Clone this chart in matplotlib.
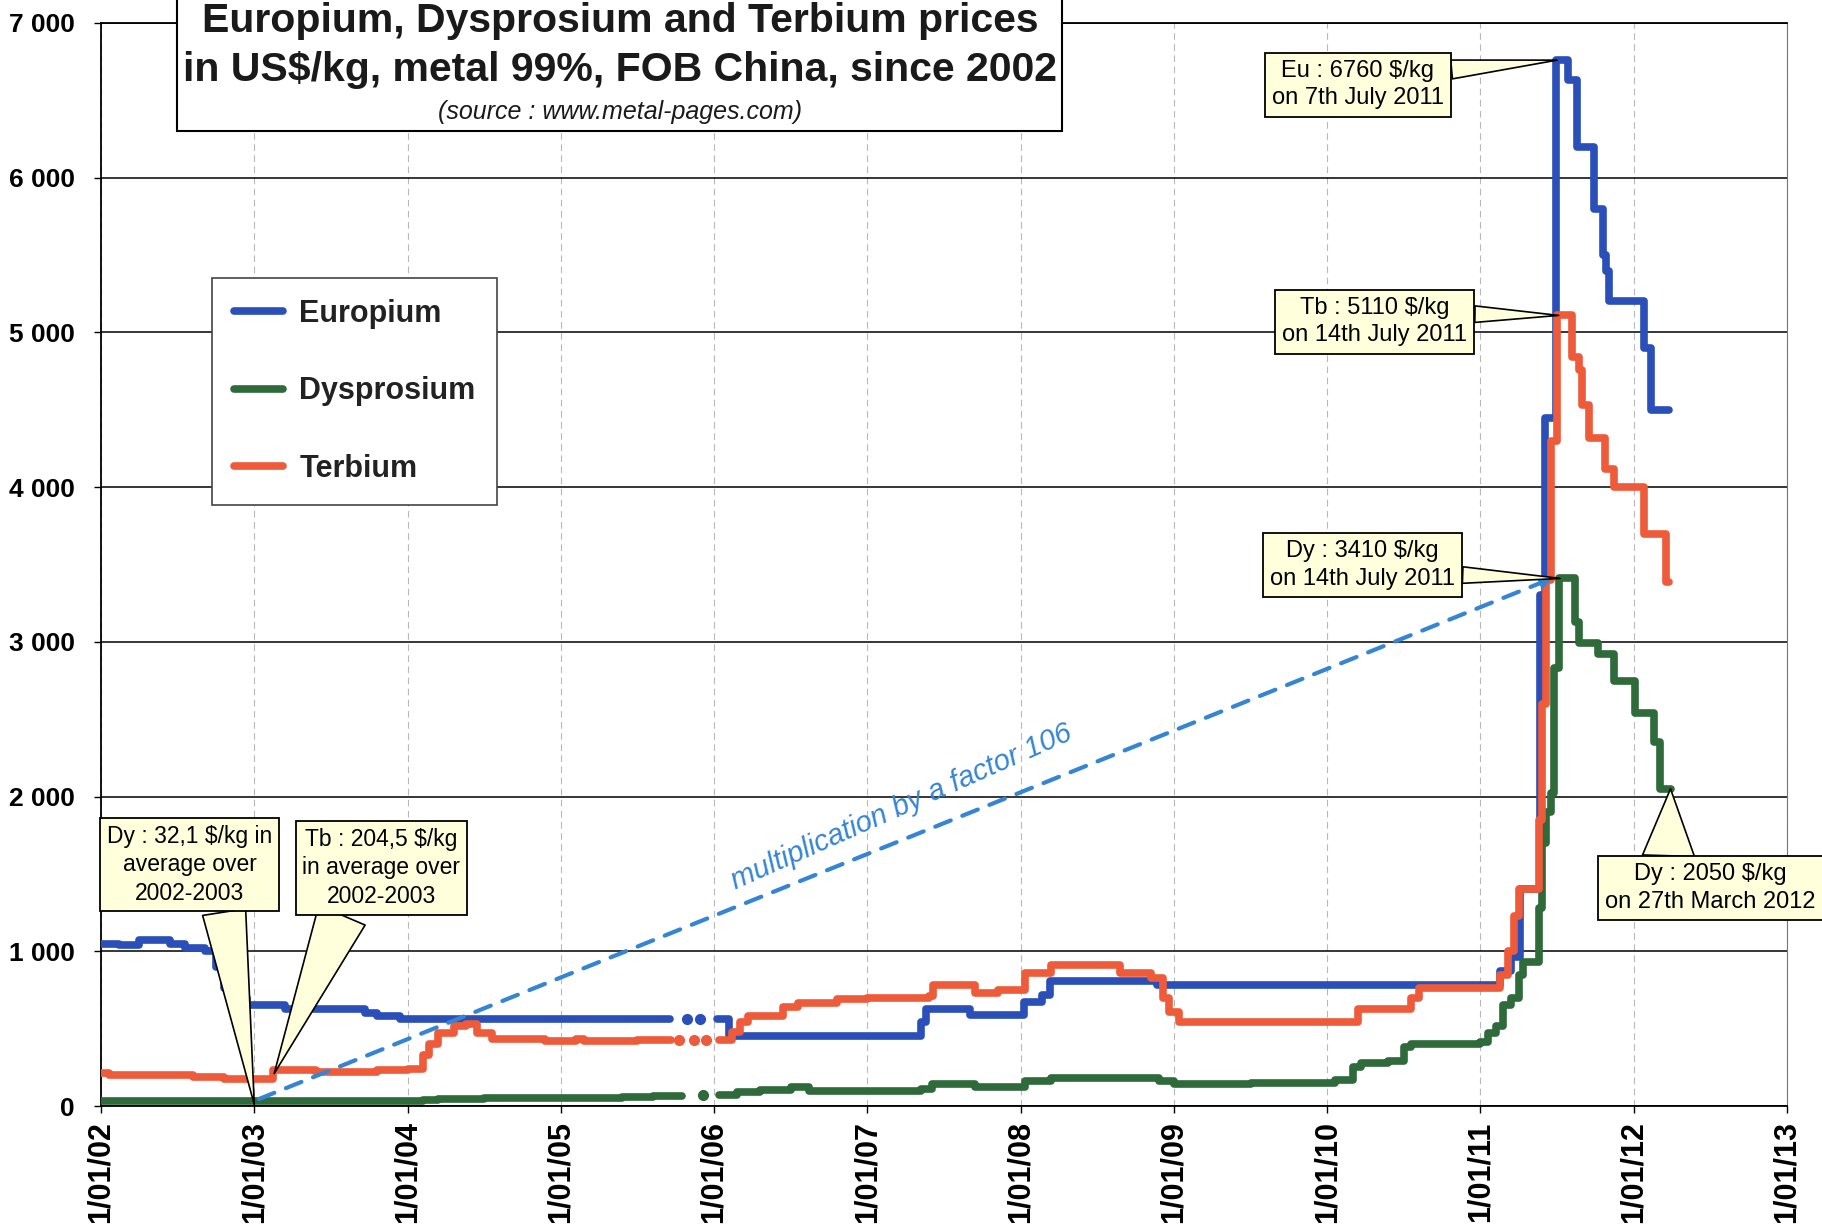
import numpy as np
import matplotlib
matplotlib.use("Agg")
import matplotlib.pyplot as plt
from matplotlib.patches import Rectangle

nan = np.nan

# prices in US$/kg, dates as decimal years (step data, value holds from date on)
eu_dates = [2002.00, 2002.12, 2002.25, 2002.45, 2002.55, 2002.68, 2002.75, 2002.80, 2002.85,
            2002.95, 2003.20, 2003.72, 2003.80, 2003.95, 2005.70, 2005.71,
            2006.02, 2006.10, 2007.35, 2007.38, 2007.67, 2008.02, 2008.14, 2008.19, 2008.89,
            2011.13, 2011.20, 2011.26, 2011.39, 2011.42, 2011.49, 2011.57, 2011.63, 2011.74,
            2011.80, 2011.82, 2011.84, 2012.07, 2012.11, 2012.23]
eu_prices = [1050, 1040, 1070, 1050, 1020, 1000, 900, 760, 700,
             655, 630, 600, 580, 565, 565, nan,
             560, 450, 540, 625, 590, 670, 720, 805, 780,
             870, 960, 1400, 3300, 4450, 6760, 6630, 6200, 5800,
             5500, 5400, 5200, 4900, 4500, 4500]
eu_dot_dates = [2005.82, 2005.91]
eu_dot_prices = [562, 562]

tb_dates = [2002.00, 2002.05, 2002.60, 2002.80, 2003.12, 2003.40, 2003.80, 2004.00, 2004.10,
            2004.14, 2004.20, 2004.30, 2004.38, 2004.45, 2004.55, 2004.90, 2005.10, 2005.15,
            2005.50, 2005.71, 2005.72,
            2006.03, 2006.12, 2006.17, 2006.22, 2006.45, 2006.55, 2006.80, 2007.00, 2007.40,
            2007.43, 2007.70, 2007.85, 2008.03, 2008.20, 2008.65, 2008.85, 2008.93, 2008.97,
            2009.03, 2010.20, 2010.55, 2010.60, 2011.13, 2011.18, 2011.22, 2011.25, 2011.38,
            2011.40, 2011.43, 2011.46, 2011.50, 2011.60, 2011.64, 2011.66, 2011.71, 2011.81,
            2011.87, 2012.07, 2012.21, 2012.23]
tb_prices = [215, 200, 185, 175, 232, 218, 232, 240, 330,
             400, 470, 515, 530, 470, 435, 422, 430, 420,
             425, 425, nan,
             425, 480, 540, 580, 640, 665, 690, 700, 710,
             780, 730, 750, 860, 910, 860, 830, 700, 610,
             540, 630, 700, 760, 845, 1000, 1230, 1400, 1850,
             2600, 3400, 4300, 5110, 4840, 4760, 4530, 4320, 4120,
             4000, 3700, 3390, 3390]
tb_dot_dates = [2005.77, 2005.87, 2005.95]
tb_dot_prices = [428, 428, 428]

dy_dates = [2002.00, 2002.50, 2003.00, 2004.10, 2004.20, 2004.50, 2005.00, 2005.40, 2005.60,
            2005.78, 2005.79,
            2006.03, 2006.15, 2006.30, 2006.50, 2006.62, 2007.35, 2007.42, 2007.70, 2008.03,
            2008.20, 2008.90, 2009.00, 2009.50, 2010.05, 2010.17, 2010.22, 2010.40, 2010.50,
            2010.55, 2011.00, 2011.05, 2011.10, 2011.15, 2011.20, 2011.25, 2011.28, 2011.38,
            2011.40, 2011.43, 2011.46, 2011.48, 2011.51, 2011.62, 2011.64, 2011.77, 2011.87,
            2012.01, 2012.13, 2012.17, 2012.24]
dy_prices = [35, 33, 30, 40, 45, 50, 52, 55, 62,
             65, nan,
             72, 90, 105, 120, 97, 110, 140, 125, 160,
             178, 160, 140, 150, 170, 250, 280, 290, 380,
             400, 412, 470, 515, 650, 700, 845, 930, 1280,
             1700, 1900, 2020, 2830, 3410, 3130, 2990, 2920, 2750,
             2540, 2350, 2050, 2050]
dy_dot_dates = [2005.93]
dy_dot_prices = [68]

years = list(range(2002, 2014))
x_labels = ["1/01/%02d" % (y % 100) for y in years]
y_ticks = list(range(0, 7001, 1000))
y_labels = ["0", "1 000", "2 000", "3 000", "4 000", "5 000", "6 000", "7 000"]

eu_color = "#2b4fb8"
dy_color = "#2e6a3a"
tb_color = "#ee5b3a"
trend_color = "#3585d4"
cream = "#ffffdc"
plain = ["Liberation Sans", "DejaVu Sans"]

plt.rcParams["font.family"] = plain

fig = plt.figure(figsize=(18.22, 12.24), dpi=100)
ax = fig.add_axes([101 / 1822, 1 - 1106 / 1224, 1686 / 1822, 1083 / 1224])

lw = 5.5
ax.plot(eu_dates, eu_prices, color=eu_color, lw=lw, drawstyle="steps-post",
        solid_capstyle="round", label="Europium", zorder=3)
ax.plot(dy_dates, dy_prices, color=dy_color, lw=lw, drawstyle="steps-post",
        solid_capstyle="round", label="Dysprosium", zorder=3)
ax.plot(tb_dates, tb_prices, color=tb_color, lw=lw, drawstyle="steps-post",
        solid_capstyle="round", label="Terbium", zorder=4)
ax.plot(eu_dot_dates, eu_dot_prices, "o", color=eu_color, ms=7, zorder=3)
ax.plot(tb_dot_dates, tb_dot_prices, "o", color=tb_color, ms=7, zorder=4)
ax.plot(dy_dot_dates, dy_dot_prices, "o", color=dy_color, ms=7, zorder=3)

ax.set_xlim(2002, 2013)
ax.set_ylim(0, 7000)
ax.set_xticks(years)
ax.set_xticklabels(x_labels, rotation=90, fontsize=22, fontweight="bold")
ax.set_yticks(y_ticks)
ax.set_yticklabels(y_labels, fontsize=19, fontweight="bold")
ax.tick_params(axis="both", direction="out", length=5, width=1)
ax.tick_params(axis="x", pad=6)
ax.tick_params(axis="y", pad=14)
ax.yaxis.grid(True, color="black", lw=1.1)
ax.xaxis.grid(True, color="#b8b8b8", lw=0.8, linestyle=(0, (6, 4)))
ax.set_axisbelow(True)
for side in ["left", "bottom", "top"]:
    ax.spines[side].set_color("black")
    ax.spines[side].set_linewidth(1.3)
ax.spines["right"].set_color("#777777")

# dashed trend arrow and its label
ax.annotate("", xy=(2011.44, 3400), xytext=(2003.03, 45),
            arrowprops=dict(arrowstyle="-", color=trend_color, lw=3,
                            linestyle=(0, (4, 3)), shrinkA=0, shrinkB=0), zorder=5)
ax.annotate("", xy=(2011.47, 3415), xytext=(2011.38, 3378),
            arrowprops=dict(arrowstyle="-|>", color=trend_color, lw=2,
                            mutation_scale=18, shrinkA=0, shrinkB=0), zorder=5)
ax.text(2007.22, 1935, "multiplication by a factor 106", color=trend_color,
        fontsize=21, fontstyle="italic", rotation=24, ha="center", va="center")

# callouts
callouts = [
    ("Eu : 6760 $/kg\non 7th July 2011", (2011.50, 6760), (2010.20, 6600), (1.0, 0.80), 0.8, 17),
    ("Tb : 5110 $/kg\non 14th July 2011", (2011.51, 5110), (2010.31, 5068), (1.0, 0.66), 0.7, 17),
    ("Dy : 3410 $/kg\non 14th July 2011", (2011.52, 3410), (2010.23, 3497), (1.0, 0.30), 0.7, 17),
    ("Dy : 2050 $/kg\non 27th March 2012", (2012.24, 2050), (2012.50, 1409), (0.3, 1.0), 2.2, 17),
    ("Dy : 32,1 $/kg in\naverage over\n2002-2003", (2003.00, 10), (2002.58, 1560), (0.7, 0.0), 1.9, 16.5),
    ("Tb : 204,5 $/kg\nin average over\n2002-2003", (2003.13, 210), (2003.83, 1540), (0.27, 0.0), 2.2, 16.5),
]
for txt, pt, pos, rel, tw, fs in callouts:
    ax.annotate(txt, xy=pt, xytext=pos, ha="center", va="center", fontsize=fs,
                linespacing=1.3, zorder=8, annotation_clip=False,
                bbox=dict(boxstyle="square,pad=0.3", fc=cream, ec="black", lw=1.3),
                arrowprops=dict(arrowstyle="wedge,tail_width=%.2f,shrink_factor=0.5" % tw,
                                fc=cream, ec="black", lw=1.2, relpos=rel,
                                shrinkA=0, shrinkB=0))

leg = ax.legend(loc="upper left", bbox_to_anchor=(0.066, 0.765), fontsize=22,
                frameon=True, fancybox=False, edgecolor="#444444", framealpha=1,
                handlelength=1.6, handletextpad=0.55, labelspacing=1.55,
                borderpad=0.7, borderaxespad=0)
for t in leg.get_texts():
    t.set_fontweight("bold")
    t.set_color("#222222")
leg.get_frame().set_linewidth(1.2)

# title box at the top
fig.add_artist(Rectangle((177 / 1822, 1 - 131 / 1224), 885 / 1822, 0.2,
                         transform=fig.transFigure, fc="white", ec="black",
                         lw=1.5, zorder=10))
fig.text(620 / 1822, 1 - 21 / 1224, "Europium, Dysprosium and Terbium prices",
         ha="center", va="center", fontsize=29.5, fontweight="bold",
         color="#1a1a1a", zorder=11)
fig.text(620 / 1822, 1 - 70 / 1224, "in US$/kg, metal 99%, FOB China, since 2002",
         ha="center", va="center", fontsize=29.5, fontweight="bold",
         color="#1a1a1a", zorder=11)
fig.text(620 / 1822, 1 - 112 / 1224, "(source : www.metal-pages.com)",
         ha="center", va="center", fontsize=18, fontstyle="italic",
         color="#1a1a1a", zorder=11)

fig.savefig("out.png", dpi=100, facecolor="white")
